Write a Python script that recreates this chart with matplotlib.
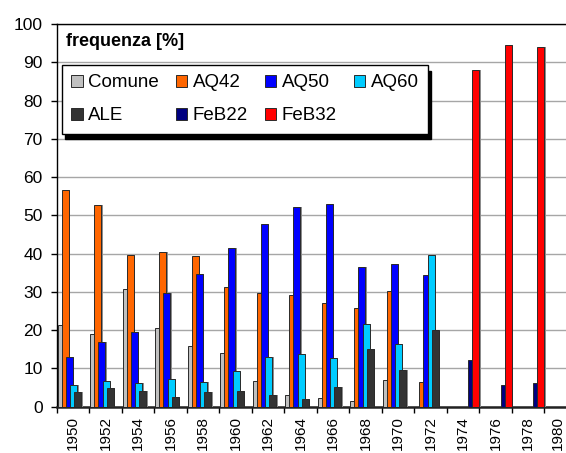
import numpy as np
import matplotlib.pyplot as plt
import matplotlib.transforms as mtransforms
from matplotlib.patches import Patch

plt.rcParams['font.family'] = ['Liberation Sans', 'DejaVu Sans']

# categories (one group every two years)
years = ['1950', '1952', '1954', '1956', '1958', '1960', '1962', '1964',
         '1966', '1968', '1970', '1972', '1974', '1976', '1978', '1980']

# frequenza [%] per series, None = no bar
comune = [21.3, 19.0, 30.7, 20.5, 15.8, 14.0, 6.7, 3.0, 2.4, 1.4, 6.9, None,
          None, None, None, None]
aq42 = [56.5, 52.7, 39.6, 40.3, 39.3, 31.4, 29.6, 29.2, 27.0, 25.7, 30.2, 6.4,
        None, None, None, None]
aq50 = [12.9, 16.8, 19.4, 29.6, 34.8, 41.4, 47.7, 52.1, 52.9, 36.6, 37.2, 34.3,
        None, None, None, None]
aq60 = [5.6, 6.7, 6.2, 7.2, 6.4, 9.2, 12.9, 13.8, 12.6, 21.5, 16.4, 39.6,
        None, None, None, None]
ale = [3.8, 4.9, 4.2, 2.5, 3.8, 4.1, 3.1, 2.0, 5.1, 15.1, 9.6, 20.0,
       None, None, None, None]
feb22 = [None] * 12 + [12.2, 5.8, 6.2, 4.4]
feb32 = [None] * 12 + [88.0, 94.4, 93.9, None]

names = ['Comune', 'AQ42', 'AQ50', 'AQ60', 'ALE', 'FeB22', 'FeB32']
series = [comune, aq42, aq50, aq60, ale, feb22, feb32]
colors = ['#C0C0C0', '#FF6600', '#0000FF', '#00CCFF', '#333333', '#000080', '#FF0000']

W, H = 566, 453
unit = 32.5  # px per year group
fig = plt.figure(figsize=(W / 100, H / 100), dpi=100)
# plot area runs past the right edge of the picture, as in the original
ax = fig.add_axes([56.7 / W, (H - 406.7) / H, 16 * unit / W, (406.7 - 24) / H])

step = 4.1 / unit
width = 7.0 / unit
start = 1.0 / unit
shadow_dx = 1.5 / unit

for j, (vals, col) in enumerate(zip(series, colors)):
    x = np.array([i for i, v in enumerate(vals) if v is not None], dtype=float)
    h = np.array([v for v in vals if v is not None], dtype=float)
    left = x + start + j * step
    ax.bar(left + shadow_dx, h, width=width, align='edge', color='#8c8c8c',
           linewidth=0, zorder=3 + 2 * j)
    ax.bar(left, h, width=width, align='edge', color=col, edgecolor='#2a2a2a',
           linewidth=0.7, zorder=4 + 2 * j)

ax.set_xlim(0, 16)
ax.set_ylim(0, 100)
ax.set_yticks(np.arange(0, 101, 10))
ax.yaxis.grid(True, color='#a6a6a6', linewidth=1.0, zorder=0)
ax.set_axisbelow(True)

ax.set_xticks(np.arange(0, 17))
ax.set_xticklabels([])
ax.set_xticks(np.arange(16) + 0.5, minor=True)
ax.set_xticklabels(years, minor=True, rotation=90, fontsize=11)
ax.tick_params(axis='x', which='major', length=4, width=1, direction='out')
ax.tick_params(axis='x', which='minor', length=0, pad=7)
ax.tick_params(axis='y', length=4.5, width=1, direction='out', labelsize=12.5, pad=5.5)

# last label sits on the picture edge, nudge it a little left
last = ax.get_xticklabels(minor=True)[-1]
last.set_transform(last.get_transform() +
                   mtransforms.ScaledTranslation(-3 / 100, 0, fig.dpi_scale_trans))

for s in ['left', 'top']:
    ax.spines[s].set_color('black')
    ax.spines[s].set_linewidth(1.0)
ax.spines['bottom'].set_linewidth(1.8)
ax.spines['bottom'].set_color('#222222')
ax.spines['right'].set_visible(False)

fig.text(66 / W, (H - 42) / H, 'frequenza [%]', fontsize=13, fontweight='bold',
         va='center', ha='left')

# legend filled row by row: Comune AQ42 AQ50 AQ60 / ALE FeB22 FeB32
order = [0, 4, 1, 5, 2, 6, 3]
handles = [Patch(facecolor=colors[k], edgecolor='#2a2a2a', linewidth=0.7) for k in order]
labels = [names[k] for k in order]
leg = fig.legend(handles, labels, ncol=4, loc='upper left',
                 bbox_to_anchor=(62 / W, 1 - 65 / H), bbox_transform=fig.transFigure,
                 fontsize=13.5, frameon=True, fancybox=False, borderaxespad=0,
                 handlelength=0.6, handleheight=0.6, handletextpad=0.3,
                 columnspacing=0.9, labelspacing=0.85, borderpad=0.5,
                 shadow={'ox': 2, 'oy': -4, 'facecolor': 'black',
                         'edgecolor': 'black', 'alpha': 1})
leg.get_frame().set_edgecolor('black')
leg.get_frame().set_linewidth(1.0)
leg.set_zorder(20)

fig.savefig('out.png', dpi=100)
